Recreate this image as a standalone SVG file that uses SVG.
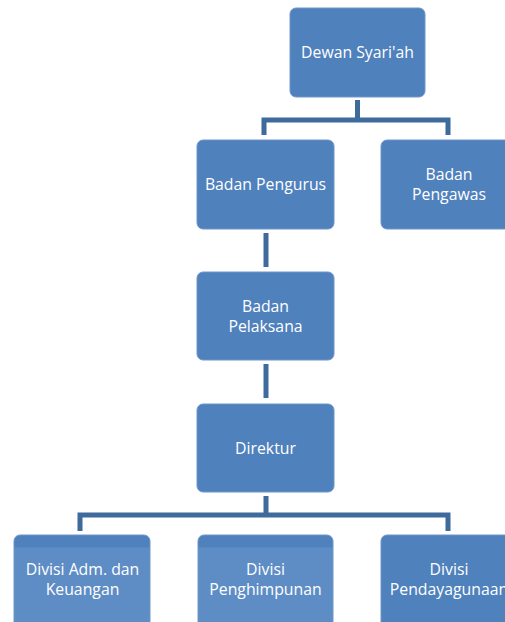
<svg xmlns="http://www.w3.org/2000/svg" width="505" height="622" viewBox="0 0 505 622">
<defs>
<style>
.box{fill:#4f81bd;stroke:#6f97c8;stroke-width:1}
.wm{fill:url(#wm);stroke:#6f97c8;stroke-width:1}
.t{font-family:"Open Sans","Noto Sans",sans-serif;font-size:15.8px;fill:#ffffff;text-anchor:middle}
.c{stroke:#3f6a9c;stroke-width:5;fill:none;stroke-linejoin:miter}
</style>
<linearGradient id="wm" x1="0" y1="0" x2="0" y2="1">
<stop offset="0" stop-color="#4f81bd"/>
<stop offset="0.12" stop-color="#4f81bd"/>
<stop offset="0.14" stop-color="#5e8dc5"/>
<stop offset="1" stop-color="#5e8dc5"/>
</linearGradient>
</defs>
<rect width="505" height="622" fill="#ffffff"/>
<g id="connectors">
<path class="c" d="M357.5 100 V120 M264 135 V120 H448 V135"/>
<path class="c" d="M266 233 V267"/>
<path class="c" d="M266 364 V398"/>
<path class="c" d="M266 496 V515 M80 531 V515 H448 V531"/>
</g>
<g id="dewan-syariah">
<rect class="box" x="290" y="8" width="135" height="89" rx="6"/>
<text class="t" x="357.5" y="57.5">Dewan Syari'ah</text>
</g>
<g id="badan-pengurus">
<rect class="box" x="197" y="140" width="137" height="89" rx="6"/>
<text class="t" x="265.5" y="189.5">Badan Pengurus</text>
</g>
<g id="badan-pengawas">
<rect class="box" x="381" y="140" width="136" height="89" rx="6"/>
<text class="t" x="449" y="179.5">Badan</text>
<text class="t" x="449" y="199.5">Pengawas</text>
</g>
<g id="badan-pelaksana">
<rect class="box" x="197" y="272" width="137" height="88" rx="6"/>
<text class="t" x="265.5" y="311.5">Badan</text>
<text class="t" x="265.5" y="332">Pelaksana</text>
</g>
<g id="direktur">
<rect class="box" x="197" y="404" width="137" height="88" rx="6"/>
<text class="t" x="265.5" y="453.5">Direktur</text>
</g>
<g id="divisi-adm">
<rect class="wm" x="14" y="535" width="136" height="95" rx="6"/>
<text class="t" x="82.5" y="575">Divisi Adm. dan</text>
<text class="t" x="82.5" y="595">Keuangan</text>
</g>
<g id="divisi-penghimpunan">
<rect class="wm" x="198" y="535" width="135" height="95" rx="6"/>
<text class="t" x="265.5" y="575">Divisi</text>
<text class="t" x="265.5" y="595">Penghimpunan</text>
</g>
<g id="divisi-pendayagunaan">
<rect class="box" x="381" y="535" width="136" height="95" rx="6"/>
<text class="t" x="449" y="575">Divisi</text>
<text class="t" x="449" y="595">Pendayagunaan</text>
</g>
</svg>
